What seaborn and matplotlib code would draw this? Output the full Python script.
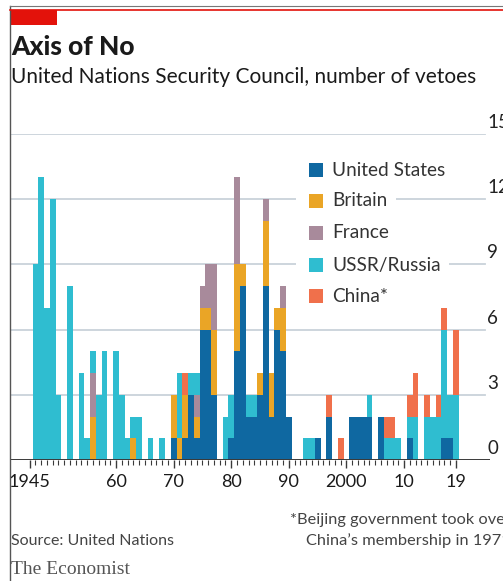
import matplotlib
matplotlib.use("Agg")
import matplotlib.pyplot as plt
import seaborn as sns
import pandas as pd
from matplotlib.patches import Rectangle
from matplotlib.lines import Line2D

# ---------------- data (vetoes per year, 1946-2019) ----------------
years = list(range(1946, 2020))
united_states = [0, 0, 0, 0, 0, 0, 0, 0, 0, 0,
                 0, 0, 0, 0, 0, 0, 0, 0, 0, 0,
                 0, 0, 0, 0, 1, 0, 1, 3, 1, 6,
                 6, 3, 0, 0, 1, 5, 8, 2, 2, 3,
                 8, 2, 6, 5, 2, 0, 0, 0, 0, 1,
                 0, 2, 0, 0, 0, 2, 2, 2, 2, 0,
                 2, 0, 0, 0, 0, 1, 0, 0, 0, 0,
                 0, 1, 1, 0]
britain = [0, 0, 0, 0, 0, 0, 0, 0, 0, 0,
           2, 0, 0, 0, 0, 0, 0, 1, 0, 0,
           0, 0, 0, 0, 2, 1, 2, 0, 1, 1,
           1, 3, 0, 0, 0, 4, 1, 0, 0, 1,
           3, 2, 1, 2, 0, 0, 0, 0, 0, 0,
           0, 0, 0, 0, 0, 0, 0, 0, 0, 0,
           0, 0, 0, 0, 0, 0, 0, 0, 0, 0,
           0, 0, 0, 0]
france = [0, 0, 0, 0, 0, 0, 0, 0, 0, 0,
          2, 0, 0, 0, 0, 0, 0, 0, 0, 0,
          0, 0, 0, 0, 0, 0, 0, 0, 1, 1,
          2, 3, 0, 0, 0, 4, 0, 0, 0, 0,
          1, 0, 0, 1, 0, 0, 0, 0, 0, 0,
          0, 0, 0, 0, 0, 0, 0, 0, 0, 0,
          0, 0, 0, 0, 0, 0, 0, 0, 0, 0,
          0, 0, 0, 0]
ussr_russia = [9, 13, 7, 12, 3, 0, 8, 0, 4, 1,
               1, 3, 5, 0, 5, 3, 1, 1, 2, 0,
               1, 0, 1, 0, 0, 3, 0, 1, 1, 0,
               0, 0, 0, 2, 2, 0, 0, 1, 1, 0,
               0, 0, 0, 0, 0, 0, 0, 1, 1, 0,
               0, 0, 0, 0, 0, 0, 0, 0, 1, 0,
               0, 1, 1, 1, 0, 1, 2, 0, 2, 2,
               2, 5, 2, 3]
china = [0, 0, 0, 0, 0, 0, 0, 0, 0, 0,
         0, 0, 0, 0, 0, 0, 0, 0, 0, 0,
         0, 0, 0, 0, 0, 0, 1, 0, 0, 0,
         0, 0, 0, 0, 0, 0, 0, 0, 0, 0,
         0, 0, 0, 0, 0, 0, 0, 0, 0, 0,
         0, 1, 0, 1, 0, 0, 0, 0, 0, 0,
         0, 1, 1, 0, 0, 1, 2, 0, 1, 0,
         1, 1, 0, 3]

countries = ["United States", "Britain", "France", "USSR/Russia", "China*"]
colors = ["#0f68a1", "#eaa526", "#a88a9b", "#2fbdd0", "#f0704b"]
tick_years = [1945, 1960, 1970, 1980, 1990, 2000, 2010, 2019]
tick_labels = ["1945", "60", "70", "80", "90", "2000", "10", "19"]
y_ticks = [0, 3, 6, 9, 12, 15]

series = [united_states, britain, france, ussr_russia, china]
rows = []
for name, vals in zip(countries, series):
    for yr, v in zip(years, vals):
        rows.append({"year": yr, "country": name, "vetoes": v})
df = pd.DataFrame(rows)

# ---------------- figure ----------------
W, H = 503, 581
fig = plt.figure(figsize=(W / 100, H / 100), dpi=100)
fig.patch.set_facecolor("white")

def fx(px):
    return px / W

def fy(py):
    return 1 - py / H

FONT = "Lato"
ax_left, ax_right, ax_bottom, ax_top = 10, 490, 460, 134
ax = fig.add_axes([fx(ax_left), fy(ax_bottom), fx(ax_right - ax_left), (ax_bottom - ax_top) / H])
ax.set_facecolor("none")

# gridlines
for v in y_ticks[1:]:
    ax.axhline(v, xmin=0, xmax=(485 - ax_left) / (ax_right - ax_left),
               color="#c9d2da", lw=1.3, zorder=0)

# stacked bars (seaborn stacks the last hue level at the bottom)
stack_order = countries[::-1]
sns.histplot(data=df, x="year", weights="vetoes", hue="country",
             hue_order=stack_order, palette=dict(zip(countries, colors)),
             multiple="stack", discrete=True, shrink=1.0, element="bars",
             linewidth=0, edgecolor="none", alpha=1, legend=False, ax=ax,
             zorder=2)

px_per_year = 5.76
x0_year = 1946 - (35.4 - ax_left) / px_per_year
ax.set_xlim(x0_year, x0_year + (ax_right - ax_left) / px_per_year)
ax.set_ylim(0, 15)
ax.axhline(0, color="#3a3a3a", lw=1.4, zorder=3)

for s in ax.spines.values():
    s.set_visible(False)
ax.set_yticks([])
ax.set_xlabel("")
ax.set_ylabel("")
ax.set_xticks(tick_years)
ax.set_xticklabels(tick_labels, fontsize=13, color="#1a1a1a", family=FONT)
ax.set_xticks(years + [1945], minor=True)
ax.tick_params(axis="x", which="major", length=6, width=1, color="#3a3a3a", pad=4)
ax.tick_params(axis="x", which="minor", length=3.5, width=0.8, color="#3a3a3a")

# right-hand y labels (cut by the page edge as in the reference)
for v in y_ticks:
    py = ax_bottom - v * (ax_bottom - ax_top) / 15
    fig.text(fx(487), fy(py - 3), str(v), ha="left", va="bottom",
             fontsize=13.5, color="#222222", family=FONT)

# legend, drawn by hand so each row masks the gridlines behind it
legend_y = [170, 201, 233, 265, 296]
for name, col, py in zip(countries, colors, legend_y):
    fig.add_artist(Rectangle((fx(296), fy(py + 10)), fx(36), 20 / H,
                             facecolor="white", edgecolor="none", zorder=4))
    fig.add_artist(Rectangle((fx(309), fy(py + 7)), fx(14), 14 / H,
                             facecolor=col, edgecolor="none", zorder=5))
    fig.text(fx(332), fy(py), name, ha="left", va="center", fontsize=13.7,
             color="#333333", family=FONT, zorder=5,
             bbox=dict(facecolor="white", edgecolor="none", pad=6))

# decorations
fig.add_artist(Line2D([fx(10), fx(10)], [fy(6), fy(581)], color="#555555", lw=1.0))
fig.add_artist(Line2D([fx(10), fx(503)], [fy(6), fy(6)], color="#777777", lw=0.8))
fig.add_artist(Line2D([fx(10), fx(503)], [fy(10), fy(10)], color="#e3120b", lw=1.2))
fig.add_artist(Rectangle((fx(10), fy(25)), fx(47), 15 / H,
                         facecolor="#e3120b", edgecolor="none"))

fig.text(fx(11), fy(55), "Axis of No", ha="left", va="baseline",
         fontsize=19, fontweight="black", color="#1a1a1a", family=FONT)
fig.text(fx(11), fy(83), "United Nations Security Council, number of vetoes",
         ha="left", va="baseline", fontsize=15, color="#1a1a1a", family=FONT)

fig.text(fx(11), fy(545), "Source: United Nations", ha="left", va="baseline",
         fontsize=11.5, color="#444444", family=FONT)
fig.text(fx(511), fy(524), "*Beijing government took over", ha="right",
         va="baseline", fontsize=11.8, color="#444444", family=FONT)
fig.text(fx(511), fy(545), "China\u2019s membership in 1971", ha="right",
         va="baseline", fontsize=11.8, color="#444444", family=FONT)
fig.text(fx(11), fy(574), "The Economist", ha="left", va="baseline",
         fontsize=14, color="#555555", family="Liberation Serif")

fig.savefig("out.png", dpi=100, facecolor="white")
